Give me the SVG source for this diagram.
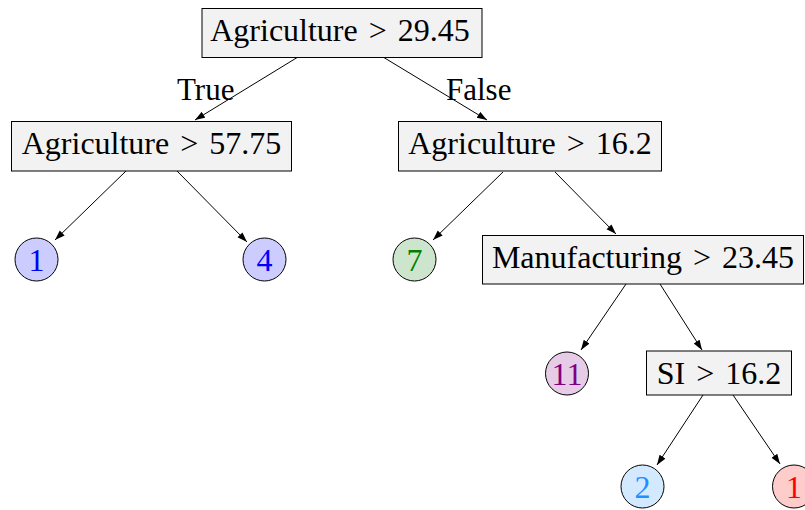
<svg xmlns="http://www.w3.org/2000/svg" width="805" height="510" viewBox="0 0 805 510">
<style>
  text { font-family: "Liberation Serif", "Times New Roman", serif; font-size: 32px; word-spacing: 3px; }
  .box { fill: #f2f2f2; stroke: #000; stroke-width: 1; }
  .ctr { text-anchor: middle; }
  .edge { stroke: #000; stroke-width: 1; fill: none; marker-end: url(#arr); }
  .leaf { stroke: #000; stroke-width: 1; }
  .lbl { font-size: 31px; }
</style>
<defs>
  <marker id="arr" markerUnits="userSpaceOnUse" markerWidth="11" markerHeight="8" refX="10" refY="3.5" orient="auto">
    <path d="M0,0 L10,3.5 L0,7 z" fill="#000"/>
  </marker>
</defs>
<rect width="805" height="510" fill="#fff"/>
<g id="connectors">
  <line class="edge" x1="298" y1="57" x2="195" y2="120"/>
  <line class="edge" x1="383" y1="57" x2="487" y2="120"/>
  <line class="edge" x1="126" y1="171" x2="55" y2="240"/>
  <line class="edge" x1="177" y1="171" x2="247" y2="242"/>
  <line class="edge" x1="503" y1="172" x2="433" y2="240"/>
  <line class="edge" x1="555" y1="172" x2="616" y2="234"/>
  <line class="edge" x1="626" y1="284" x2="581" y2="350"/>
  <line class="edge" x1="660" y1="284" x2="702" y2="350"/>
  <line class="edge" x1="703" y1="395" x2="657" y2="465"/>
  <line class="edge" x1="733" y1="395" x2="780" y2="464"/>
  <text class="lbl" x="177" y="100">True</text>
  <text class="lbl" x="446" y="100">False</text>
</g>
<g id="root">
  <rect class="box" x="202" y="8.5" width="280" height="49"/>
  <text class="ctr" x="340" y="41">Agriculture &gt; 29.45</text>
</g>
<g id="n_agri_5775">
  <rect class="box" x="11.5" y="121.5" width="280" height="49.5"/>
  <text class="ctr" x="151.5" y="154">Agriculture &gt; 57.75</text>
</g>
<g id="n_agri_162">
  <rect class="box" x="398.5" y="121.5" width="263" height="49.5"/>
  <text class="ctr" x="530" y="154">Agriculture &gt; 16.2</text>
</g>
<g id="n_manu">
  <rect class="box" x="482.5" y="235.5" width="321" height="48.5"/>
  <text class="ctr" x="643" y="268">Manufacturing &gt; 23.45</text>
</g>
<g id="n_si">
  <rect class="box" x="646.5" y="351" width="145" height="44"/>
  <text class="ctr" x="719" y="384">SI &gt; 16.2</text>
</g>
<g id="leaf_1a">
  <circle class="leaf" cx="36.5" cy="259.5" r="21.5" fill="#ccccff"/>
  <text class="ctr" x="36.5" y="270.5" fill="#0000ff">1</text>
</g>
<g id="leaf_4">
  <circle class="leaf" cx="264.5" cy="259.5" r="21.5" fill="#ccccff"/>
  <text class="ctr" x="264.5" y="270.5" fill="#0000ff">4</text>
</g>
<g id="leaf_7">
  <circle class="leaf" cx="414.5" cy="259.5" r="21.5" fill="#cce5cc"/>
  <text class="ctr" x="414.5" y="270.5" fill="#007f00">7</text>
</g>
<g id="leaf_11">
  <circle class="leaf" cx="567" cy="373.5" r="21.5" fill="#e6cce6"/>
  <text class="ctr" x="567" y="384.5" fill="#800080">11</text>
</g>
<g id="leaf_2">
  <circle class="leaf" cx="642.5" cy="486.5" r="21.5" fill="#d2e9ff"/>
  <text class="ctr" x="642.5" y="497.5" fill="#1e90ff">2</text>
</g>
<g id="leaf_1b">
  <circle class="leaf" cx="794" cy="486.5" r="21.5" fill="#ffcccc"/>
  <text class="ctr" x="794" y="497.5" fill="#ff0000">1</text>
</g>
</svg>
